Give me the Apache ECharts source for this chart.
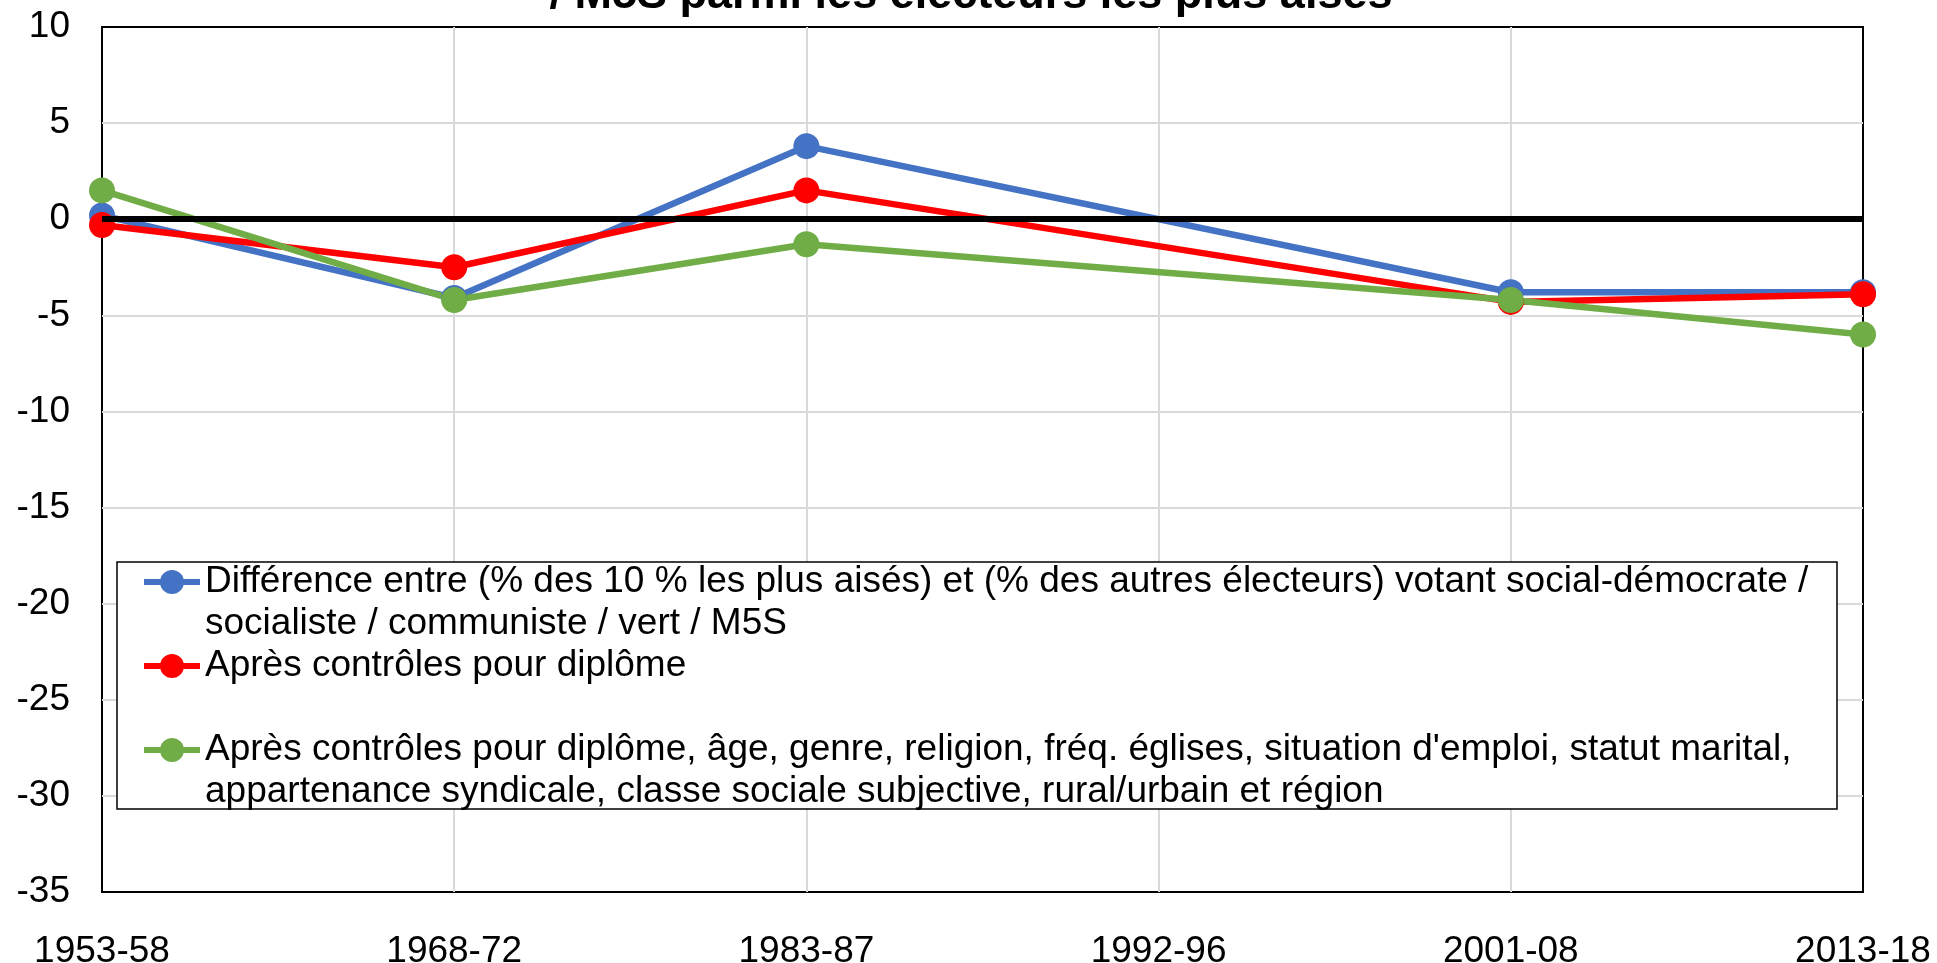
<!DOCTYPE html>
<html>
<head>
<meta charset="utf-8">
<script src="https://cdn.jsdelivr.net/npm/echarts@6/dist/echarts.min.js"></script>
<style>
html,body{margin:0;padding:0;background:#fff;}
#chart{width:1937px;height:963px;}
</style>
</head>
<body>
<div id="chart"></div>
<script>
const categories = ['1953-58', '1968-72', '1983-87', '1992-96', '2001-08', '2013-18'];
const seriesNames = [
  "Différence entre (% des 10 % les plus aisés) et (% des autres électeurs) votant social-démocrate /\nsocialiste / communiste / vert / M5S",
  "Après contrôles pour diplôme\n",
  "Après contrôles pour diplôme, âge, genre, religion, fréq. églises, situation d'emploi, statut marital,\nappartenance syndicale, classe sociale subjective, rural/urbain et région"
];
const rawValues = [0.2, -4.1, 3.8, null, -3.8, -3.8];
const diplomaValues = [-0.3, -2.5, 1.5, null, -4.3, -3.9];
const allControlsValues = [1.5, -4.2, -1.3, null, -4.2, -6.0];
const yMin = -35, yMax = 10, yStep = 5;
const titleText = '/ M5S parmi les électeurs les plus aisés';

const FONT = "'Liberation Sans', Arial, sans-serif";
const colors = ['#4472C4', '#FF0000', '#70AD47'];

function lineSeries(name, data, color) {
  return {
    name: name, type: 'line', data: data, connectNulls: true,
    symbol: 'circle', symbolSize: 26,
    lineStyle: {color: color, width: 6.5},
    itemStyle: {color: color},
    z: 3, animation: false
  };
}

const chart = echarts.init(document.getElementById('chart'), null, {renderer: 'canvas'});
chart.setOption({
  animation: false,
  backgroundColor: '#fff',
  textStyle: {fontFamily: FONT},
  grid: {left: 102, right: 74, top: 27, bottom: 71, containLabel: false, outerBoundsMode: 'none',
         show: true, borderColor: '#000', borderWidth: 2, backgroundColor: 'transparent'},
  xAxis: {
    type: 'category', data: categories, boundaryGap: false,
    axisLine: {show: false}, axisTick: {show: false},
    axisLabel: {color: '#000', fontSize: 37, fontFamily: FONT, margin: 41, interval: 0},
    splitLine: {show: true, showMinLine: false, showMaxLine: false, lineStyle: {color: '#d9d9d9', width: 2}}
  },
  yAxis: {
    type: 'value', min: yMin, max: yMax, interval: yStep,
    axisLine: {show: false}, axisTick: {show: false},
    axisLabel: {color: '#000', fontSize: 37, fontFamily: FONT, margin: 32},
    splitLine: {show: true, showMinLine: false, showMaxLine: false, lineStyle: {color: '#d9d9d9', width: 2}}
  },
  legend: {
    data: seriesNames,
    orient: 'vertical', left: 141, top: 519, padding: 0,
    itemGap: -42, itemWidth: 56, itemHeight: 30,
    lineStyle: {width: 6},
    formatter: function (name) { return '\n' + name; },
    textStyle: {color: '#000', fontSize: 37, fontFamily: FONT, lineHeight: 42},
    selectedMode: false
  },
  graphic: [
    {type: 'rect', z: 3, shape: {x: 117, y: 562, width: 1720, height: 247},
     style: {fill: '#fff', stroke: '#000', lineWidth: 1.5}},
    {type: 'text', z: 5, x: 971, y: -4,
     style: {text: titleText, fill: '#000', font: "bold 45px 'Liberation Sans', Arial, sans-serif",
             textAlign: 'center', textVerticalAlign: 'middle', align: 'center', verticalAlign: 'middle'}}
  ],
  series: [
    {type: 'line', data: [], z: 1, silent: true,
     markLine: {silent: true, symbol: ['none', 'none'], label: {show: false},
                lineStyle: {color: '#000', width: 6, type: 'solid'}, data: [{yAxis: 0}], animation: false}},
    lineSeries(seriesNames[0], rawValues, colors[0]),
    lineSeries(seriesNames[1], diplomaValues, colors[1]),
    lineSeries(seriesNames[2], allControlsValues, colors[2])
  ]
});
</script>
</body>
</html>
